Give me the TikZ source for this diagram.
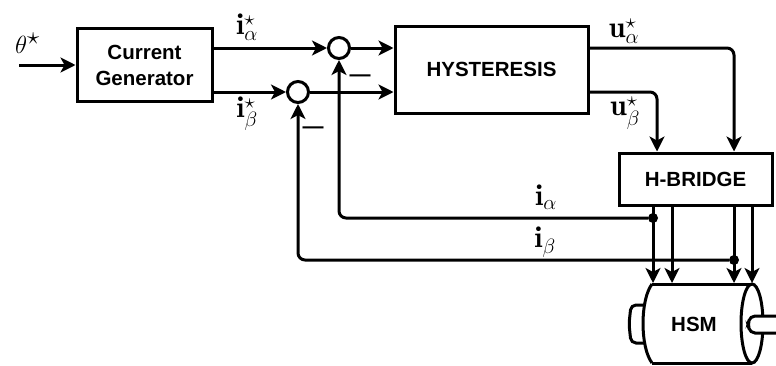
\documentclass[tikz,border=0pt]{standalone}
\usepackage{amsmath}
\usepackage{fontspec}
\newfontfamily\blockfont{Liberation Sans}
\usetikzlibrary{arrows.meta}
\tikzset{
    block/.style={draw, line width=3pt, font=\fontsize{20.5}{26}\blockfont\bfseries, align=center},
    sumnode/.style={draw, circle, line width=3pt, minimum size=21pt, inner sep=0pt},
    sig/.style={line width=3pt, -{Stealth[length=15pt,width=15pt,inset=4pt]}},
    wire/.style={line width=3pt},
    lbl/.style={font=\fontsize{30}{34}\selectfont, inner sep=0pt},
    minuslbl/.style={font=\fontsize{21}{24}\blockfont\bfseries, inner sep=0pt},
    dotnode/.style={circle, fill=black, minimum size=10pt, inner sep=0pt}
}
\begin{document}
\begin{tikzpicture}[x=1pt, y=-1pt]
    \useasboundingbox (0,0) rectangle (776,365);

    % Blocks
    \node[block, minimum width=135pt, minimum height=73pt] (gen) at (144.5,65) {Current\\Generator};
    \node[block, minimum width=193pt, minimum height=87pt] (hyst) at (491.5,69.5) {HYSTERESIS};
    \node[block, minimum width=153pt, minimum height=52pt] (bridge) at (695.5,179) {H-BRIDGE};
    \node[sumnode] (suma) at (339,48) {};
    \node[sumnode] (sumb) at (298,92) {};

    % Motor
    \draw[wire, line join=round] (652,284) -- (752,284) (652,363) -- (752,363);
    \draw[wire] (652,284) .. controls (640,300) and (640,347) .. (652,363);
    \draw[wire] (752,323.5) ellipse [x radius=11, y radius=39.5];
    \draw[wire, rounded corners=5pt] (643,305) -- (631,305) -- (629,324) -- (631,343) -- (644,343);
    \draw[wire, fill=white, rounded corners=5pt] (778,316) -- (750,316) -- (748,324.5) -- (750,333) -- (778,333);
    \node[font=\fontsize{20.5}{24}\blockfont\bfseries, inner sep=0pt] (hsm) at (694,324) {HSM};
    \coordinate (mtop) at (702,283);

    % Input and references
    \coordinate (in) at (19,65);
    \draw[sig] (in) -- (gen.west);
    \draw[sig] (gen.east |- suma) -- (suma);
    \draw[sig] (gen.east |- sumb) -- (sumb);
    \draw[sig] (suma) -- (hyst.west |- suma);
    \draw[sig] (sumb) -- (hyst.west |- sumb);

    % Hysteresis to bridge
    \coordinate (ua) at (734,153);
    \coordinate (ub) at (657,153);
    \draw[sig, rounded corners=7pt] (hyst.east |- suma) -| (bridge.north -| ua);
    \draw[sig, rounded corners=7pt] (hyst.east |- sumb) -| (bridge.north -| ub);

    % Bridge to motor
    \node[dotnode] (dota) at (653,218) {};
    \node[dotnode] (dotb) at (734,260) {};
    \coordinate (pb) at (672,205);
    \coordinate (pd) at (752,205);
    \draw[sig] (bridge.south -| dota) -- (dota |- mtop);
    \draw[sig] (bridge.south -| pb) -- (pb |- mtop);
    \draw[sig] (bridge.south -| dotb) -- (dotb |- mtop);
    \draw[sig] (bridge.south -| pd) -- (pd |- mtop);

    % Feedback
    \draw[sig, rounded corners=7pt] (dota) -| (suma);
    \draw[sig, rounded corners=7pt] (dotb) -| (sumb);

    % Labels
    \node[lbl, font=\fontsize{34}{38}\selectfont] (ltheta) at (27.5,43) {$\theta^{\star}$};
    \node[lbl] (lia) at (247,27) {$\mathbf{i}^{\star}_{\alpha}$};
    \node[lbl] (lib) at (247,114) {$\mathbf{i}^{\star}_{\beta}$};
    \node[lbl] (lua) at (624,31) {$\mathbf{u}^{\star}_{\alpha}$};
    \node[lbl] (lub) at (625,113) {$\mathbf{u}^{\star}_{\beta}$};
    \node[lbl] (lfa) at (546,197) {$\mathbf{i}_{\alpha}$};
    \node[lbl] (lfb) at (545,242) {$\mathbf{i}_{\beta}$};
    \node[minuslbl] (mina) at (360,78) {—};
    \node[minuslbl] (minb) at (313,130) {—};
\end{tikzpicture}
\end{document}
